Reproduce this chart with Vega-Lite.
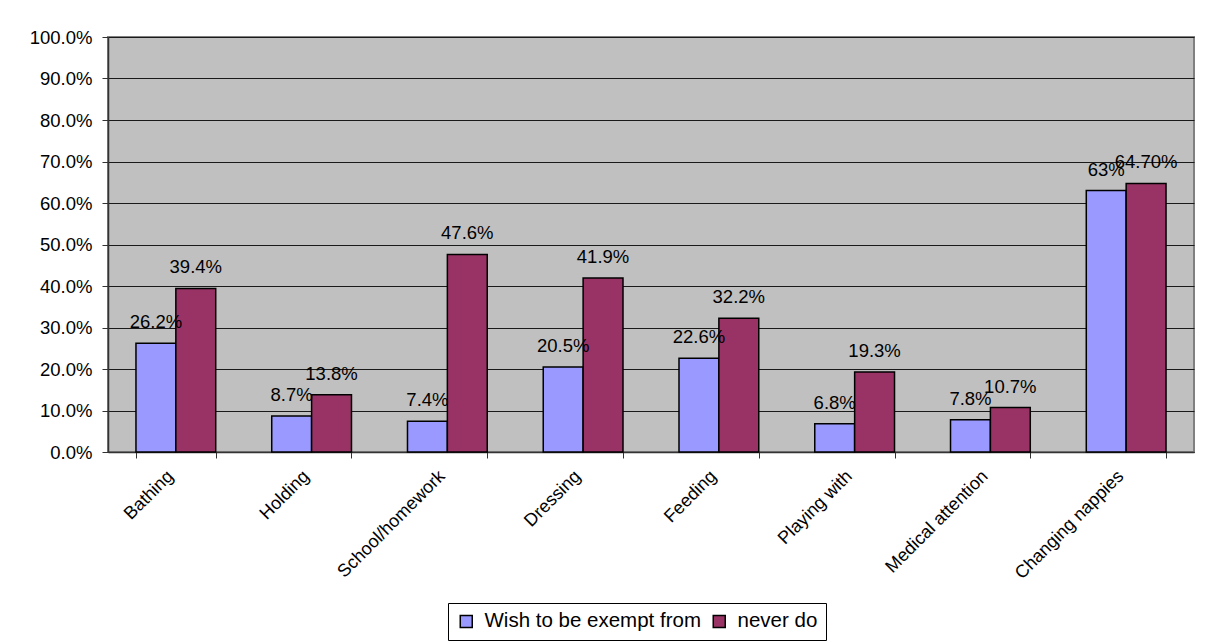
{
  "$schema": "https://vega.github.io/schema/vega-lite/v6.json",
  "width": 1086,
  "height": 415,
  "autosize": {"type": "none"},
  "padding": {"left": 108, "top": 37, "right": 15, "bottom": 190},
  "background": "white",
  "config": {
    "font": "Liberation Sans",
    "view": {"fill": "#C0C0C0", "stroke": "#808080", "strokeWidth": 2}
  },
  "data": {
    "values": [
      {"task": "Bathing", "series": "Wish to be exempt from", "value": 0.262, "label": "26.2%"},
      {"task": "Bathing", "series": "never do", "value": 0.394, "label": "39.4%"},
      {"task": "Holding", "series": "Wish to be exempt from", "value": 0.087, "label": "8.7%"},
      {"task": "Holding", "series": "never do", "value": 0.138, "label": "13.8%"},
      {"task": "School/homework", "series": "Wish to be exempt from", "value": 0.074, "label": "7.4%"},
      {"task": "School/homework", "series": "never do", "value": 0.476, "label": "47.6%"},
      {"task": "Dressing", "series": "Wish to be exempt from", "value": 0.205, "label": "20.5%"},
      {"task": "Dressing", "series": "never do", "value": 0.419, "label": "41.9%"},
      {"task": "Feeding", "series": "Wish to be exempt from", "value": 0.226, "label": "22.6%"},
      {"task": "Feeding", "series": "never do", "value": 0.322, "label": "32.2%"},
      {"task": "Playing with", "series": "Wish to be exempt from", "value": 0.068, "label": "6.8%"},
      {"task": "Playing with", "series": "never do", "value": 0.193, "label": "19.3%"},
      {"task": "Medical attention", "series": "Wish to be exempt from", "value": 0.078, "label": "7.8%"},
      {"task": "Medical attention", "series": "never do", "value": 0.107, "label": "10.7%"},
      {"task": "Changing nappies", "series": "Wish to be exempt from", "value": 0.63, "label": "63%"},
      {"task": "Changing nappies", "series": "never do", "value": 0.647, "label": "64.70%"}
    ]
  },
  "encoding": {
    "x": {
      "field": "task",
      "type": "nominal",
      "sort": null,
      "title": null,
      "scale": {"paddingInner": 0.4125, "paddingOuter": 0.206},
      "axis": {
        "labelAngle": -45,
        "labelFontSize": 18,
        "labelColor": "black",
        "labelPadding": 9,
        "labelOffset": -12,
        "labelLimit": 0,
        "tickBand": "extent",
        "tickSize": 6,
        "tickColor": "#333333",
        "domainColor": "#333333",
        "domainWidth": 1.5
      }
    },
    "xOffset": {
      "field": "series",
      "type": "nominal",
      "sort": ["Wish to be exempt from", "never do"],
      "scale": {"paddingInner": 0, "paddingOuter": 0}
    },
    "y": {
      "field": "value",
      "type": "quantitative",
      "title": null,
      "scale": {"domain": [0, 1], "nice": false},
      "axis": {
        "values": [0, 0.1, 0.2, 0.3, 0.4, 0.5, 0.6, 0.7, 0.8, 0.9, 1],
        "format": ".1%",
        "labelFontSize": 18.5,
        "labelColor": "black",
        "labelPadding": 10,
        "tickSize": 6,
        "tickColor": "#333333",
        "domainColor": "#333333",
        "domainWidth": 1.5,
        "gridColor": "#1a1a1a",
        "gridWidth": 1,
        "gridOpacity": 1
      }
    }
  },
  "layer": [
    {
      "mark": {"type": "bar", "stroke": "black", "strokeWidth": 1.5},
      "encoding": {
        "color": {
          "field": "series",
          "type": "nominal",
          "sort": ["Wish to be exempt from", "never do"],
          "scale": {"domain": ["Wish to be exempt from", "never do"], "range": ["#9999FF", "#993366"]},
          "legend": {
            "title": null,
            "orient": "none",
            "legendX": 340,
            "legendY": 566,
            "direction": "horizontal",
            "symbolType": "square",
            "symbolSize": 144,
            "symbolStrokeColor": "black",
            "symbolStrokeWidth": 1.5,
            "labelFontSize": 20.5,
            "labelColor": "black",
            "labelOffset": 8,
            "labelLimit": 0,
            "columnPadding": 8,
            "padding": 8,
            "strokeColor": "black",
            "fillColor": "white"
          }
        }
      }
    },
    {
      "mark": {"type": "text", "baseline": "alphabetic", "dy": -15, "fontSize": 18.5, "color": "black"},
      "encoding": {"text": {"field": "label"}}
    }
  ]
}
